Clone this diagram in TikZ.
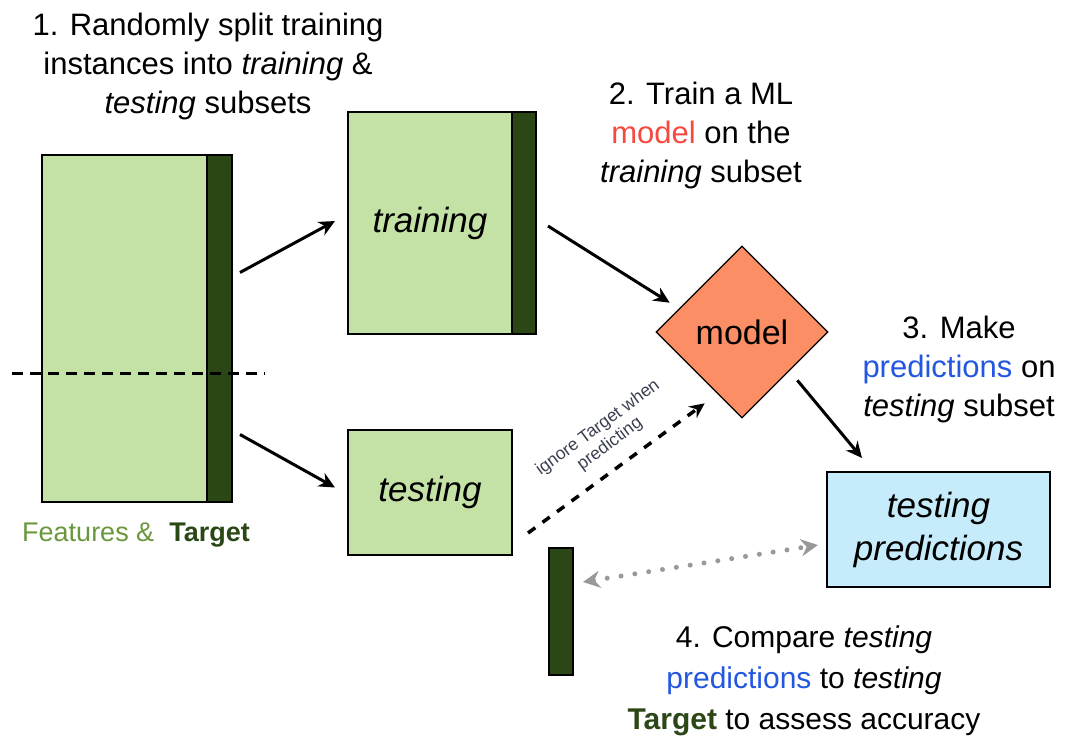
\documentclass[tikz,border=0pt]{standalone}
\usepackage{fontspec}
\setmainfont{Liberation Sans}
\usetikzlibrary{shapes.geometric,arrows.meta}
\definecolor{lgreen}{HTML}{C4E2A6}
\definecolor{dgreen}{HTML}{2B4716}
\definecolor{fgreen}{HTML}{6A963C}
\definecolor{salmon}{HTML}{FC8E66}
\definecolor{lblue}{HTML}{C6ECFB}
\definecolor{tblue}{HTML}{2457E0}
\definecolor{tred}{HTML}{F5493F}
\definecolor{dotgray}{HTML}{999999}
\definecolor{notecol}{HTML}{3A4050}
\begin{document}
\begin{tikzpicture}[x=1pt,y=-1pt,
  box/.style={draw=black,line width=1.3pt,rectangle,inner sep=0pt,outer sep=0pt},
  lbl/.style={align=center,font=\fontsize{31}{39}\selectfont,inner sep=0pt},
  boxtext/.style={font=\fontsize{35}{42}\selectfont\itshape,align=center},
  arr/.style={line width=3pt,-{Stealth[length=16pt,width=15pt]}},
  dasharr/.style={line width=3.5pt,dash pattern=on 9pt off 9pt,-{Stealth[length=15pt,width=14pt]}},
  dotarr/.style={dotgray,line width=5pt,line cap=round,dash pattern=on 0pt off 14pt,{Stealth[length=17pt,width=17pt]}-{Stealth[length=17pt,width=17pt]}}]
\useasboundingbox (0,0) rectangle (1067,740);

% left data block
\node[box,fill=lgreen,minimum width=165pt,minimum height=347pt] (feat) at (124.5,328.5) {};
\node[box,fill=dgreen,minimum width=25pt,minimum height=347pt] (tgt) at (219.5,328.5) {};
\coordinate (dl) at (12,373);
\coordinate (dr) at (265,373);
\draw[line width=3pt,dash pattern=on 11pt off 7pt] (dl) -- (dr);

% training subset
\node[box,fill=lgreen,minimum width=164pt,minimum height=222pt] (train) at (430,223) {};
\node[box,fill=dgreen,minimum width=24pt,minimum height=222pt] (traintgt) at (524,223) {};
\node[boxtext] (traintxt) at (430,223) {training};

% testing subset
\node[box,fill=lgreen,minimum width=164pt,minimum height=125pt] (test) at (430,492.5) {};
\node[boxtext] (testtxt) at (430,492.5) {testing};

% model
\node[diamond,draw=black,line width=1.3pt,fill=salmon,minimum width=172pt,minimum height=172pt,inner sep=0pt,font=\fontsize{34}{40}\selectfont] (model) at (742,332) {model};

% testing predictions
\node[box,fill=lblue,minimum width=223pt,minimum height=115pt] (tp) at (938.5,529.5) {};
\node[boxtext,font=\fontsize{35}{43}\selectfont\itshape] (tptxt) at (938.5,529.5) {testing\\predictions};

% testing target strip
\node[box,fill=dgreen,minimum width=24pt,minimum height=127pt] (ttgt) at (561,611.5) {};

% arrows
\draw[arr] ([shift={(8,-56)}]tgt.east) -- ([shift={(-13,-2)}]train.west);
\draw[arr] ([shift={(8,106)}]tgt.east) -- ([shift={(-13,-5)}]test.west);
\draw[arr] ([shift={(12,3)}]traintgt.east) -- ([shift={(-29,14)}]model.north west);
\draw[arr] ([shift={(12,5)}]model.south east) -- ([shift={(35,-14)}]tp.north west);
\draw[dasharr] ([shift={(16,40.5)}]test.east) -- ([shift={(6,28)}]model.south west);
\draw[dotarr] ([shift={(10,-29.5)}]ttgt.east) -- ([shift={(-9,15.5)}]tp.west);

% rotated note
\node[rotate=36.5,align=center,font=\fontsize{17.5}{20}\selectfont,text=notecol,inner sep=0pt] (note) at (604,436) {ignore Target when\\predicting};

% step texts
\node[lbl] (s1) at (208,66) {1. Randomly split training\\instances into \textit{training} \&\\\textit{testing} subsets};
\node[lbl] (s2) at (701,135) {2. Train a ML\\\textcolor{tred}{model} on the\\\textit{training} subset};
\node[lbl] (s3) at (959,369) {3. Make\\\textcolor{tblue}{predictions} on\\\textit{testing} subset};
\node[lbl,font=\fontsize{30}{41}\selectfont] (s4) at (804,681) {4. Compare \textit{testing}\\\textcolor{tblue}{predictions} to \textit{testing}\\\textcolor{dgreen}{\textbf{Target}} to assess accuracy};
\node[font=\fontsize{27}{32}\selectfont,inner sep=0pt] (ft) at (136,535) {\textcolor{fgreen}{Features \&}\ \ \textcolor{dgreen}{\textbf{Target}}};
\end{tikzpicture}
\end{document}
